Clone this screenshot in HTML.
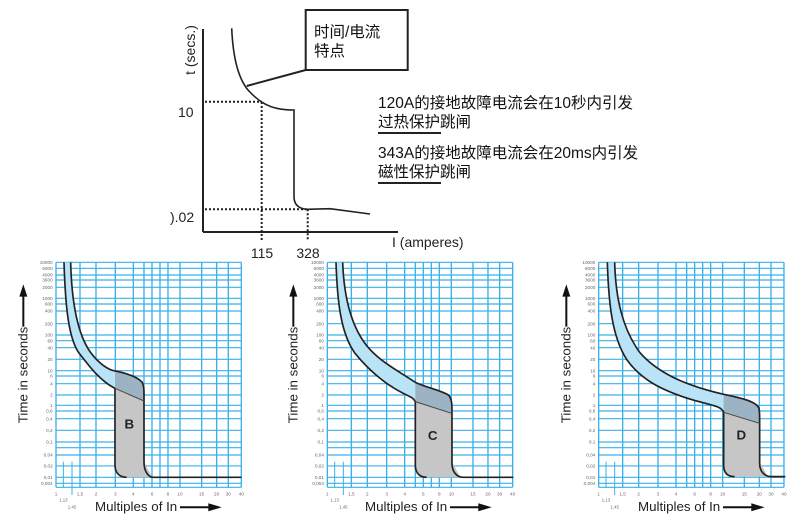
<!DOCTYPE html>
<html><head><meta charset="utf-8"><style>
html,body{margin:0;padding:0;background:#fff;}
svg{display:block;}
</style></head><body>
<svg id="s" width="803" height="523" viewBox="0 0 803 523" xmlns="http://www.w3.org/2000/svg" font-family="Liberation Sans, sans-serif">
<g fill="none" stroke="#222">
<line x1="203" y1="29" x2="203" y2="232" stroke-width="2"/>
<line x1="203" y1="232" x2="398" y2="232" stroke-width="2"/>
<path d="M231.7,28.3 C233,58 238,78 248,90 C256,99 266,106 276.7,108.3 C284,110 290,110 294,110 L294,196.7 Q294,208 306.7,209.3 L330,208.7 L370,214" stroke-width="1.6"/>
<g stroke-dasharray="2,2" stroke-width="2">
<line x1="205" y1="101.7" x2="261.7" y2="101.7"/>
<line x1="261.7" y1="102" x2="261.7" y2="240"/>
<line x1="205" y1="209.3" x2="306.7" y2="209.3"/>
<line x1="307.7" y1="209.3" x2="307.7" y2="240"/>
</g>
<rect x="305.7" y="10" width="102" height="60" stroke-width="2"/>
<line x1="246.7" y1="86" x2="305.7" y2="70" stroke-width="2"/>
<line x1="378" y1="133" x2="441" y2="133" stroke-width="2"/>
<line x1="378" y1="183" x2="441" y2="183" stroke-width="2"/>
</g>
<g font-size="14" fill="#222">
<text transform="translate(195,50) rotate(-90)" text-anchor="middle" font-size="14">t (secs.)</text>
<text x="178" y="117">10</text>
<text x="170" y="222">).02</text>
<text x="262" y="258" text-anchor="middle">115</text>
<text x="308" y="258" text-anchor="middle">328</text>
<text x="392" y="247">I (amperes)</text>
</g>
<g font-family="Liberation Sans, 'Noto Sans CJK SC', sans-serif" font-size="15.5" fill="#111">
<text x="314" y="37">时间/电流</text>
<text x="314" y="56">特点</text>
<text x="378" y="108">120A的接地故障电流会在10秒内引发</text>
<text x="378" y="127">过热保护跳闸</text>
<text x="378" y="158">343A的接地故障电流会在20ms内引发</text>
<text x="378" y="177">磁性保护跳闸</text>
</g>
<g id="charts"></g>
</svg>
<script>
var xs=[168,240,288,346,400,432,456,480,504,540,605,650,685,724];
var xl=[[168,"1"],[240,"1,5"],[288,"2"],[346,"3"],[400,"4"],[456,"6"],[504,"8"],[540,"10"],[605,"15"],[650,"20"],[685,"30"],[724,"40"]];
var ys=[[22,"10000"],[40,"6000"],[60,"4000"],[75,"3600"],[97,"2000"],[130,"1000"],[147,"600"],[168,"400"],[206,"200"],[240,"100"],[257,"60"],[278,"40"],[313,"20"],[347,"10"],[363,"6"],[386,"4"],[420,"2"],[451,"1"],[468,"0,6"],[491,"0,4"],[526,"0,2"],[561,"0,1"],[578,""],[600,"0,04"],[633,"0,02"],[667,"0,01"],[685,"0,004"],[697,""]];
var charts=[
{ox:0,dx:0,lab:"B",lp:[388,520],
 left:"M192,22 C196,150 205,255 240,298 C265,330 300,378 345,400",
 right:"M212,22 C215,140 232,235 270,290 C295,325 325,345 345,348 C380,355 410,365 425,380 C432,390 432,405 432,420",
 vl:"M345,400 L345,630 C345,650 355,667 380,667", vr:"M432,420 L432,620 C432,650 445,667 460,667 L724,667",
 diag:"M345,400 L430,437"},
{ox:270,dx:4,lab:"C",lp:[488,555],
 left:"M198,22 C202,140 212,235 255,295 C300,350 350,390 400,415 C420,425 430,428 436,440",
 right:"M218,22 C222,130 245,215 290,272 C330,320 380,345 436,382 C470,398 510,405 535,420 C546,430 546,450 546,470",
 vl:"M436,440 L436,630 C436,655 450,667 470,667", vr:"M546,470 L546,625 C546,650 560,667 580,667 L730,667",
 diag:"M436,440 L545,475"},
{ox:543,dx:-1,lab:"D",lp:[595,553],
 left:"M193,22 C197,150 208,245 250,312 C290,370 350,405 450,435 C500,450 535,452 542,472",
 right:"M215,22 C218,130 238,220 290,292 C340,350 420,390 542,418 C600,430 640,440 648,460 C650,470 650,480 650,495",
 vl:"M542,472 L542,630 C542,655 555,665 575,665", vr:"M650,495 L650,625 C650,650 665,665 685,665 L727,665",
 diag:"M542,472 L650,505"}
];
function revLeft(d){
 var t=d.replace("M","").split(" C");var start=t[0];var segs=t.slice(1).map(function(s){return s.trim().split(" ");});
 var out="L"+segs[segs.length-1][2];
 for(var i=segs.length-1;i>=0;i--){var p0=i>0?segs[i-1][2]:start;out+=" C"+segs[i][1]+" "+segs[i][0]+" "+p0;}
 return out;
}
var h="";
charts.forEach(function(c){
 h+='<g transform="translate('+c.ox+',255) scale(0.3333)">';
 h+='<g transform="translate('+c.dx+',0)">';
 ys.forEach(function(y){h+='<line x1="168" x2="724" y1="'+y[0]+'" y2="'+y[0]+'" stroke="#3ab0ea" stroke-width="3.5"/>';
  if(y[1])h+='<text x="158" y="'+(y[0]+5)+'" font-size="14" fill="#666" text-anchor="end">'+y[1]+'</text>';});
 xs.forEach(function(x){h+='<line y1="22" y2="697" x1="'+x+'" x2="'+x+'" stroke="#3ab0ea" stroke-width="4"/>';});
 h+='<line x1="168" x2="265" y1="75" y2="75" stroke="#3ab0ea" stroke-width="3"/>';
 h+='<line x1="190" x2="190" y1="620" y2="697" stroke="#3ab0ea" stroke-width="3"/><line x1="216" x2="216" y1="620" y2="720" stroke="#3ab0ea" stroke-width="3"/>';
 xl.forEach(function(x){h+='<text x="'+x[0]+'" y="722" font-size="14" fill="#666" text-anchor="middle">'+x[1]+'</text>';});
 h+='<text x="190" y="740" font-size="13" fill="#666" text-anchor="middle">1,13</text><text x="216" y="760" font-size="13" fill="#666" text-anchor="middle">1,45</text>';
 h+='</g>';
 h+='<path d="'+c.right+' '+c.diag.replace(/^M([^ ]+) L(.+)$/,"L$2 L$1")+' '+revLeft(c.left)+' Z" fill="#b9e4f8"/>';
 var dstart=c.diag.match(/M([\d.]+),([\d.]+)/), dend=c.diag.match(/L([\d.]+),([\d.]+)/);
 var vx=+dstart[1], rx=+c.vr.match(/M([\d.]+)/)[1];
 var by=c.vr.indexOf("665")>0?665:667;
 h+='<path d="'+c.vl+' L'+(rx+25)+','+by+' L'+rx+',620 L'+dend[1]+','+dend[2]+' Z" fill="#c6c6c6"/>';
 h+='<clipPath id="cp'+c.lab+'"><path d="'+c.right+' L'+dend[1]+','+dend[2]+' L'+dstart[1]+','+dstart[2]+' L168,400 L168,22 Z"/></clipPath>';
 h+='<polygon points="'+vx+','+dstart[2]+' '+dend[1]+','+dend[2]+' '+(rx+5)+',330 '+vx+',300" fill="#9bb3c2" clip-path="url(#cp'+c.lab+')"/>';
 h+='<g fill="none" stroke="#222" stroke-width="5"><path d="'+c.left+'"/><path d="'+c.right+'"/><path d="'+c.vl+'"/><path d="'+c.vr+'"/></g>';
 h+='<path d="'+c.diag+'" stroke="#444" stroke-width="3" fill="none"/>';
 h+='<text x="'+c.lp[0]+'" y="'+c.lp[1]+'" font-size="40" font-weight="bold" text-anchor="middle" fill="#222">'+c.lab+'</text>';
 h+='<line x1="70" y1="215" x2="70" y2="115" stroke="#111" stroke-width="6"/><polygon points="70,88 58,125 82,125" fill="#111"/>';
 h+='<text transform="translate(82,360) rotate(-90)" font-size="40" text-anchor="middle" fill="#222">Time in seconds</text>';
 h+='<text x="285" y="768" font-size="40" fill="#222">Multiples of In</text>';
 h+='<line x1="540" y1="757" x2="640" y2="757" stroke="#111" stroke-width="6"/><polygon points="665,757 625,745 625,769" fill="#111"/>';
 h+='</g>';
});
document.getElementById("charts").innerHTML=h;
</script>
</body></html>
